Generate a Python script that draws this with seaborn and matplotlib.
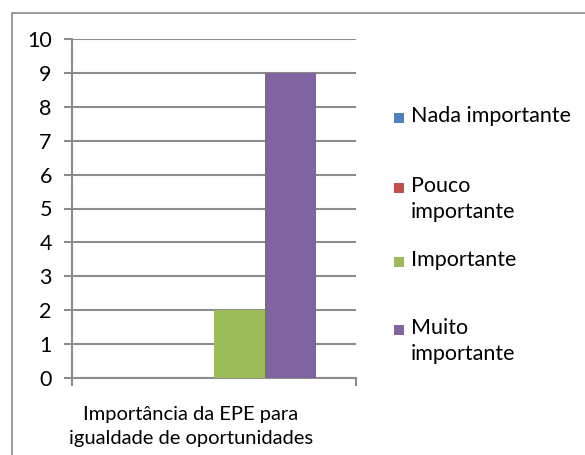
import matplotlib
matplotlib.use("Agg")
import matplotlib.pyplot as plt
import seaborn as sns
import pandas as pd
from matplotlib.patches import Rectangle

categories = ["Importância da EPE para\nigualdade de oportunidades"]
levels = ["Nada importante", "Pouco\nimportante", "Importante", "Muito\nimportante"]
values = [0, 0, 2, 9]
colors = ["#4F81BD", "#C0504D", "#9BBB59", "#8064A2"]
yticks = list(range(0, 11))

sns.set_theme(style="white")
plt.rcParams["font.family"] = ["Lato", "DejaVu Sans"]
FS = 15.5
FSX = 14.5

df = pd.DataFrame({"cat": categories * len(levels), "level": levels, "value": values})

fig = plt.figure(figsize=(5.85, 4.55), dpi=100)
ax = fig.add_axes([72/585, 1-378/455, 284/585, 339/455])

sns.barplot(data=df, x="cat", y="value", hue="level", hue_order=levels,
            palette=colors, width=0.72, linewidth=0, saturation=1,
            legend=False, ax=ax, zorder=3)

grid_c = "#8c8c8c"
ax.set_ylim(0, 10)
ax.set_xlim(-0.5, 0.5)
ax.set_yticks(yticks)
ax.set_yticklabels([str(t) for t in yticks], fontsize=FS, color="black")
ax.yaxis.grid(True, color=grid_c, linewidth=1.5, zorder=0)
ax.set_axisbelow(True)
ax.set_xticks([-0.5, 0.5])
ax.set_xticklabels(["", ""])
for s in ["top", "right"]:
    ax.spines[s].set_visible(False)
for s in ["left", "bottom"]:
    ax.spines[s].set_color(grid_c)
    ax.spines[s].set_linewidth(1.5)
ax.tick_params(axis="y", left=True, length=5.5, width=1.5, color=grid_c, pad=9)
ax.tick_params(axis="x", bottom=True, length=5.5, width=1.5, color=grid_c)
ax.set_ylabel("")
ax.set_xlabel(categories[0], fontsize=FSX, color="black", linespacing=1.5)
ax.xaxis.set_label_coords((191-72)/284, -(447-378)/339)
ax.xaxis.label.set_va("bottom")

# legend
W, H = 585, 455
marker_y = [118, 188, 262, 330]
for lab, col, my in zip(levels, colors, marker_y):
    fig.add_artist(Rectangle((394/W, 1-(my+5)/H), 10/W, 10/H,
                             transform=fig.transFigure, facecolor=col, edgecolor="none"))
    fig.text(411/W, 1-(my-12)/H, lab, fontsize=FS, va="top", ha="left",
             color="black", linespacing=1.4)

# outer frame
fig.add_artist(Rectangle((12/W, -0.05), 1.2, 1-13/H+0.05, transform=fig.transFigure,
                         facecolor="none", edgecolor="#8a8a8a", linewidth=1.2))

fig.savefig("out.png", dpi=100)
